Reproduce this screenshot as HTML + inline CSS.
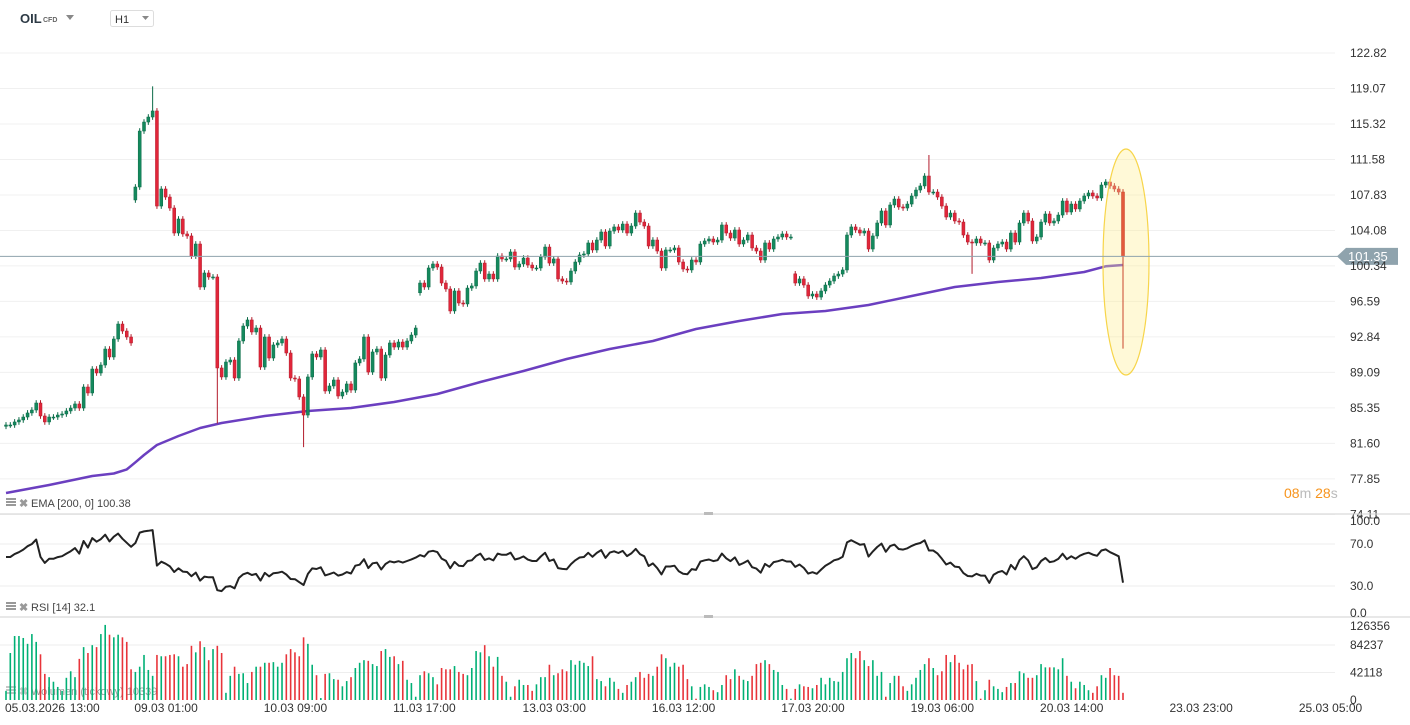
<!DOCTYPE html>
<html><head><meta charset="utf-8">
<style>
html,body{margin:0;padding:0;background:#fff;width:1410px;height:725px;overflow:hidden;font-family:"Liberation Sans",sans-serif;}
svg text{font-family:"Liberation Sans",sans-serif;}
</style></head>
<body>
<svg id="chart" width="1410" height="725" xmlns="http://www.w3.org/2000/svg">
  <g>
    <text x="20" y="23" font-size="13" font-weight="bold" fill="#2d3a45">OIL</text>
    <text x="43" y="22" font-size="7" font-weight="bold" fill="#666">CFD</text>
    <path d="M66 15 L74 15 L70 20 Z" fill="#888"/>
    <rect x="110.5" y="10.5" width="43" height="16" rx="2" fill="#fff" stroke="#ddd"/>
    <text x="115" y="23" font-size="11" fill="#333">H1</text>
    <path d="M142 16 L149 16 L145.5 20 Z" fill="#888"/>
  </g>
  <g id="grid"></g>
  <g id="ema"></g>
  <g id="candles"></g>
  <ellipse cx="1126" cy="262" rx="23" ry="113" fill="rgba(255,238,140,0.35)" stroke="#f7d54a" stroke-width="1.2"/>
  <g id="lastCandle"></g>
  <g id="priceLine"></g>
  <g id="axisP"></g>
  <g id="panes"></g>
  <g id="rsi"></g>
  <g id="vol"></g>
  <g id="xaxis"></g>
  <g>
    <text x="1284" y="498" font-size="14" fill="#f7941d">08<tspan fill="#bbb">m</tspan> 28<tspan fill="#bbb">s</tspan></text>
  </g>
</svg>
<script>
const closes = [83.54,83.54,83.86,84.07,84.38,84.81,85.12,85.86,84.49,83.86,84.38,84.38,84.59,84.70,85.02,85.33,85.76,85.33,87.55,86.92,89.45,89.03,89.87,91.56,90.72,92.62,94.20,93.46,92.83,92.20,
108.67,114.58,115.53,116.06,116.70,106.66,108.46,107.61,106.45,103.81,105.29,103.71,103.50,101.38,102.65,98.11,99.59,99.17,99.17,89.56,
88.61,90.19,90.40,88.50,92.41,93.99,94.63,93.36,93.78,89.66,92.83,90.61,91.99,92.20,92.62,91.14,88.50,88.40,86.50,
84.59,88.61,91.04,90.72,91.46,87.13,87.66,88.29,86.60,87.02,87.87,87.23,90.09,90.51,92.83,89.13,91.25,91.56,88.50,90.93,92.20,91.77,92.30,91.77,92.41,93.04,93.78,
98.53,98.11,100.12,100.54,100.22,98.53,97.90,95.58,97.69,96.42,96.32,98.00,98.22,99.80,100.64,98.96,99.48,98.96,101.38,101.07,101.07,101.81,100.22,100.54,101.17,100.43,100.12,100.12,101.28,102.33,100.64,101.07,98.96,98.74,98.64,99.80,100.75,101.49,101.60,102.76,
102.02,103.07,103.92,102.44,104.02,104.45,104.13,104.76,103.81,104.55,105.92,104.97,104.55,102.44,103.07,101.91,100.12,102.02,102.02,102.23,100.75,100.01,99.91,100.96,100.75,102.65,102.97,103.18,102.86,103.07,104.66,103.81,103.28,104.13,102.65,103.07,103.60,102.23,101.91,100.96,102.76,102.12,103.18,103.39,103.71,103.39,103.39,
98.53,98.96,98.32,97.16,97.37,97.05,97.69,98.32,98.74,99.27,99.48,99.91,103.60,104.45,104.13,103.81,104.02,102.12,103.50,104.87,
106.14,104.66,106.77,107.40,106.56,106.45,106.87,107.72,108.35,108.78,109.83,108.14,108.14,107.61,106.66,105.50,105.92,105.08,104.97,103.60,102.86,102.76,103.18,102.76,102.76,100.96,102.23,102.65,102.86,102.12,103.81,102.86,104.87,105.92,105.08,102.97,103.39,104.97,105.82,104.87,105.08,105.71,107.19,106.03,106.87,106.35,107.19,107.72,108.04,107.72,107.51,108.88,109.20,108.78,108.46,108.14,101.35];
const firstOpen = 83.40;
const gapOpenIdx = [30, 96, 183];
const gapOpenVal = [107.3, 97.5, 99.5];
const wickHighIdx = [34, 214];
const wickHighVal = [119.3, 112.05];
const wickLowIdx = [49, 69, 224, 259];
const wickLowVal = [83.7, 81.2, 99.5, 91.6];
const volumeK = [14,72,98,98,95,86,101,89,70,40,35,28,20,14,34,44,35,63,81,72,84,81,101,115,100,96,100,96,89,47,43,51,69,46,37,69,67,67,69,70,67,51,55,83,73,90,81,61,78,83,72,11,37,51,40,41,26,43,51,51,57,57,58,51,57,70,78,73,67,
96,86,54,38,3,40,41,32,31,21,29,35,49,57,61,60,55,52,75,78,66,67,55,60,31,26,5,38,44,41,35,24,49,47,47,52,43,40,38,49,75,73,84,67,51,66,37,28,5,21,31,23,23,14,24,35,35,54,38,41,47,44,61,54,60,57,52,67,32,29,21,34,28,17,11,23,28,35,43,34,40,37,51,70,64,51,57,51,54,32,21,2,20,24,20,15,12,
23,38,32,47,37,31,29,37,55,57,61,55,46,43,23,17,2,17,24,21,20,18,23,34,24,34,29,28,43,64,72,64,75,61,52,61,37,43,5,26,37,37,21,14,24,34,46,55,64,49,38,44,69,58,69,57,47,54,55,29,2,15,31,21,17,12,20,26,26,44,41,34,34,38,55,50,50,50,47,64,37,28,18,28,23,15,11,21,38,34,49,38,37,11];
const emaIdx = [0,10,20,25,28,30,32,35,40,45,50,60,70,80,90,100,110,120,130,140,150,160,170,180,190,200,210,220,230,240,250,255,259];
const emaVal = [76.36,77.20,78.15,78.42,78.85,79.60,80.37,81.43,82.38,83.22,83.75,84.49,85.02,85.33,85.97,86.81,88.08,89.24,90.51,91.56,92.41,93.68,94.52,95.26,95.58,96.21,97.16,98.11,98.64,99.06,99.69,100.30,100.43];
const priceTicks = [122.82,119.07,115.32,111.58,107.83,104.08,100.34,96.59,92.84,89.09,85.35,81.60,77.85,74.11];
const rsiTicks = [100,70,30,0];
const rsiTickLabels = ["100.0","70.0","30.0","0.0"];
const volTicks = [126356,84237,42118,0];
const xLabels = ["05.03.2026","13:00","09.03  01:00","10.03  09:00","11.03  17:00","13.03  03:00","16.03  12:00","17.03  20:00","19.03  06:00","20.03  14:00","23.03  23:00","25.03  05:00"];
const xLabelIdx = [0,15,30,60,90,120,150,180,210,240,270,300];
const rsiSeed = [0.22, 0.17];
const currentPrice = 101.35;

const NS = "http://www.w3.org/2000/svg";
const N = closes.length;
const x0 = 6, step = 1117 / 259;
const xS = i => x0 + i * step;
const yP = p => 53 + (122.82 - p) * 9.47;
const yR = v => 586 - (v - 30) * 1.05;
const yV = v => 700 - v / 126356 * 82.5;
function mk(tag, attrs, parent) {
  const e = document.createElementNS(NS, tag);
  for (const k in attrs) e.setAttribute(k, attrs[k]);
  parent.appendChild(e);
  return e;
}
const G = id => document.getElementById(id);

priceTicks.forEach(t => {
  const gl = mk('line', {x1: 0, x2: 1335, y1: yP(t), y2: yP(t), stroke: '#f0f0f0', 'stroke-width': 1}, G('grid'));
  
  
  const tx = mk('text', {x: 1350, y: yP(t) + 4, 'font-size': 12, fill: '#333'}, G('axisP'));
  
  
  tx.textContent = t.toFixed(2);
});

const opens = closes.map((c, i) => i === 0 ? firstOpen : closes[i - 1]);
gapOpenIdx.forEach((ix, k) => { opens[ix] = gapOpenVal[k]; });
const highs = closes.map((c, i) => Math.max(c, opens[i]) + 0.3);
const lows = closes.map((c, i) => Math.min(c, opens[i]) - 0.3);
wickHighIdx.forEach((ix, k) => { highs[ix] = wickHighVal[k]; });
wickLowIdx.forEach((ix, k) => { lows[ix] = wickLowVal[k]; });

let d = '';
emaIdx.forEach((ix, k) => { d += (k ? 'L' : 'M') + xS(ix).toFixed(1) + ' ' + yP(emaVal[k]).toFixed(1); });
const emaPath = mk('path', {d: d, fill: 'none', stroke: '#6b3fc0', 'stroke-width': 2.5, 'stroke-linejoin': 'round'}, G('ema'));



for (let i = 0; i < N; i++) {
  const up = closes[i] >= opens[i];
  const last = i === N - 1;
  const fill = last ? '#e35a3c' : (up ? '#14895d' : '#e1263a');
  const strk = last ? '#c8452b' : (up ? '#0b6a47' : '#b21b2b');
  const x = xS(i);
  const g = mk('g', {}, last ? G('lastCandle') : G('candles'));
  
  
  mk('line', {x1: x, x2: x, y1: yP(highs[i]), y2: yP(lows[i]), stroke: strk, 'stroke-width': 1}, g);
  const top = yP(Math.max(opens[i], closes[i]));
  const h = Math.max(1, yP(Math.min(opens[i], closes[i])) - top);
  mk('rect', {x: x - 1.5, y: top, width: 3, height: h, fill: fill, stroke: strk, 'stroke-width': 0.5}, g);
}

const pl = mk('line', {x1: 0, x2: 1338, y1: yP(currentPrice), y2: yP(currentPrice), stroke: '#8fa3ad', 'stroke-width': 1}, G('priceLine'));


const yc = yP(currentPrice);
const badge = mk('path', {d: `M1337 ${yc} L1346 ${yc-8.5} L1398 ${yc-8.5} L1398 ${yc+8.5} L1346 ${yc+8.5} Z`, fill: '#8fa3ad'}, G('priceLine'));


const bt = mk('text', {x: 1348, y: yc + 4.5, 'font-size': 13, fill: '#fff'}, G('priceLine'));


bt.textContent = currentPrice.toFixed(2);

const P = G('panes');
[514, 617].forEach(y => {
  const s = mk('line', {x1: 0, x2: 1410, y1: y, y2: y, stroke: '#d0d0d0', 'stroke-width': 1}, P);
  
  
  mk('rect', {x: 704, y: y - 2, width: 9, height: 3, fill: '#bbb'}, P);
});
[[507, 'EMA  [200,  0]  100.38', 'ema-legend'], [611, 'RSI  [14]  32.1', 'rsi-legend'], [695, 'Wolumen  (tickowy)  10339', 'volume-legend']].forEach(([y, t, n]) => {
  const g = mk('g', {opacity: n === 'volume-legend' ? 0.55 : 1}, P);
  
  
  mk('rect', {x: 6, y: y - 9, width: 10, height: 2, fill: '#999'}, g);
  mk('rect', {x: 6, y: y - 6, width: 10, height: 2, fill: '#999'}, g);
  mk('rect', {x: 6, y: y - 3, width: 10, height: 2, fill: '#999'}, g);
  mk('text', {x: 19, y: y, 'font-size': 11, fill: '#999', 'font-weight': 'bold'}, g).textContent = '✖';
  mk('text', {x: 31, y: y, 'font-size': 11, fill: '#444'}, g).textContent = t;
});

let ag = rsiSeed[0], al = rsiSeed[1];
const rsi = [];
for (let i = 0; i < N; i++) {
  const ch = closes[i] - opens[i];
  ag = (ag * 13 + Math.max(ch, 0)) / 14;
  al = (al * 13 + Math.max(-ch, 0)) / 14;
  rsi.push(100 - 100 / (1 + ag / al));
}
const R = G('rsi');
[70, 30].forEach(v => {
  const gl = mk('line', {x1: 0, x2: 1335, y1: yR(v), y2: yR(v), stroke: '#eee'}, R);
  
  
});
rsiTicks.forEach((v, k) => {
  const t = mk('text', {x: 1350, y: Math.min(Math.max(yR(v) + 4, 525), 617), 'font-size': 12, fill: '#333'}, R);
  
  
  t.textContent = rsiTickLabels[k];
});
let rd = '';
rsi.forEach((v, i) => { rd += (i ? 'L' : 'M') + xS(i).toFixed(1) + ' ' + Math.max(520, yR(v)).toFixed(1); });
const rl = mk('path', {d: rd, fill: 'none', stroke: '#222', 'stroke-width': 2, 'stroke-linejoin': 'round'}, R);



const V = G('vol');
[84237, 42118].forEach(v => {
  const gl = mk('line', {x1: 0, x2: 1335, y1: yV(v), y2: yV(v), stroke: '#eee'}, V);
  
  
});
volTicks.forEach(v => {
  const t = mk('text', {x: 1350, y: Math.max(yV(v) + 4, 630), 'font-size': 12, fill: '#333'}, V);
  
  
  t.textContent = String(v);
});
for (let i = 0; i < Math.min(N, volumeK.length); i++) {
  const up = closes[i] >= opens[i];
  const b = mk('line', {x1: xS(i), x2: xS(i), y1: yV(volumeK[i] * 1000), y2: 700, stroke: up ? '#00b075' : '#e8343a', 'stroke-width': 1.6}, V);
  
  
}

const X = G('xaxis');
xLabels.forEach((l, k) => {
  const x = xS(xLabelIdx[k]);
  const t = mk('text', {x: x - 1, y: 712, 'font-size': 12, fill: '#333', 'xml:space': 'preserve'}, X);
  
  
  t.textContent = l;
});
</script>
</body></html>
